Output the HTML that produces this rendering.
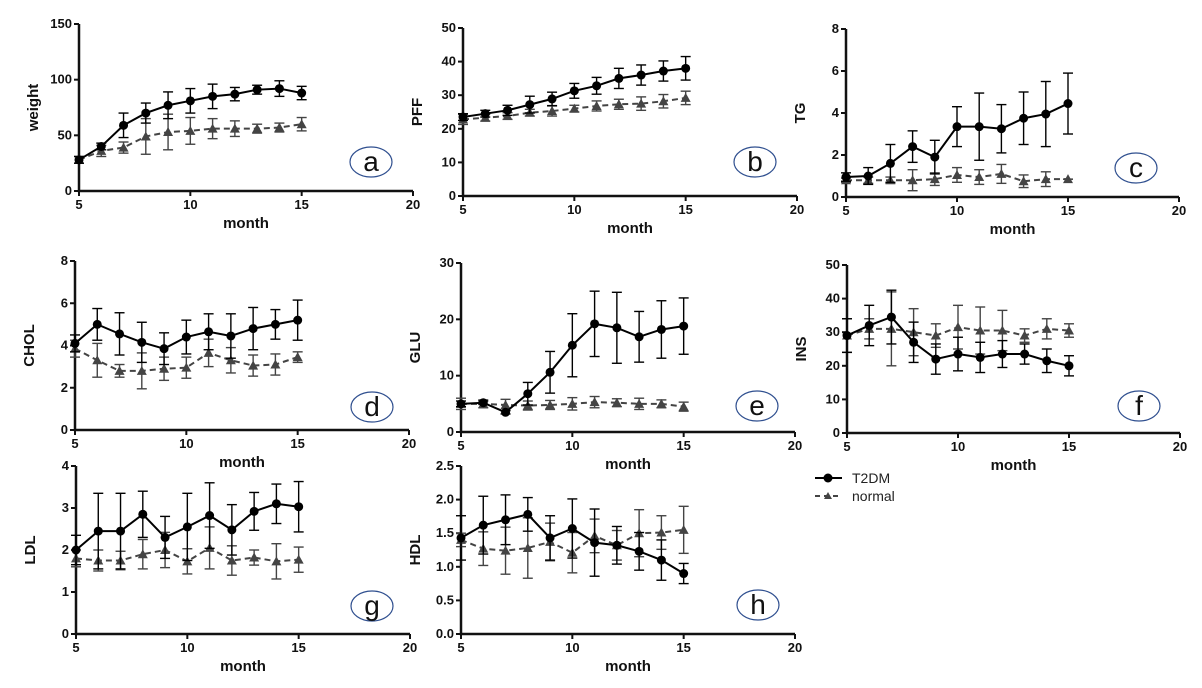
<!DOCTYPE html>
<html><head><meta charset="utf-8">
<style>
body{margin:0;background:#fff;}
svg{display:block;font-family:"Liberation Sans",sans-serif;}
.tk{font-weight:bold;font-size:13px;fill:#111;}
.lbl{font-weight:bold;font-size:15px;fill:#111;}
</style></head>
<body>
<svg id="chart" width="1202" height="688" viewBox="0 0 1202 688">
<g>
  <line x1="815" y1="478" x2="842" y2="478" stroke="#000" stroke-width="2"/>
  <circle cx="828" cy="478" r="4.5" fill="#000"/>
  <text x="852" y="483" font-size="14" fill="#222">T2DM</text>
  <line x1="815" y1="496" x2="842" y2="496" stroke="#444" stroke-width="2" stroke-dasharray="5,4"/>
  <path d="M828,492 L832,499 L824,499 Z" fill="#444"/>
  <text x="852" y="501" font-size="14" fill="#222">normal</text>
</g>
</svg>
<script>
const months=[5,6,7,8,9,10,11,12,13,14,15];
const xTicks=[5,10,15,20];
const aT=[28,40,59,70,77,81,85,87,91,92,88], aTe=[3,3,11,9,12,11,11,6,4,7,6];
const aN=[28,36,39,49,53,54,56,56,56,57,60], aNe=[3,5,5,16,16,12,9,7,4,4,6];
const bT=[23.5,24.5,25.5,27.2,28.9,31.3,32.8,35,36,37.2,38], bTe=[1,1,1.5,2.5,2,2.2,2.5,3,3,3,3.5];
const bN=[22.8,23.3,23.8,24.8,25.3,26,26.8,27.3,27.5,28.2,29.2], bNe=[1.5,1,1,1,1.5,1,1.5,1.5,2,2,2];
const cT=[0.95,1.0,1.6,2.4,1.9,3.35,3.35,3.25,3.75,3.95,4.45], cTe=[0.2,0.4,0.9,0.75,0.8,0.95,1.6,1.15,1.25,1.55,1.45];
const cN=[0.8,0.8,0.8,0.8,0.85,1.05,0.95,1.1,0.75,0.85,0.85], cNe=[0.1,0.15,0.15,0.5,0.3,0.35,0.35,0.45,0.3,0.35,0];
const dT=[4.1,5.0,4.55,4.15,3.85,4.4,4.65,4.45,4.8,5.0,5.2], dTe=[0.4,0.75,1.0,0.95,0.75,0.8,0.85,1.05,1.0,0.7,0.95];
const dN=[3.85,3.3,2.8,2.8,2.9,2.95,3.65,3.3,3.05,3.1,3.45], dNe=[0.4,0.8,0.3,0.85,0.55,0.5,0.65,0.6,0.5,0.5,0.25];
const eT=[5,5.2,3.5,6.8,10.6,15.4,19.2,18.5,16.9,18.2,18.8], eTe=[0.5,0.3,0.3,2,3.7,5.6,5.8,6.3,4.5,5.1,5];
const eN=[5,5,4.8,4.7,4.8,5,5.3,5.2,5,5,4.5], eNe=[1,0.7,1,0.8,0.8,1.1,1,0.7,1,0.7,0.8];
const fT=[29,32,34.5,27,22,23.5,22.5,23.5,23.5,21.5,20], fTe=[5,6,8,6,4.5,5,4.5,4,3,3.5,3];
const fN=[29,31,31,30,29,31.5,30.5,30.5,29,31,30.5], fNe=[5,3,11,7,3.5,6.5,7,6,2,3,2];
const gT=[2.0,2.45,2.45,2.85,2.3,2.55,2.82,2.48,2.92,3.1,3.03], gTe=[0.35,0.9,0.9,0.55,0.5,0.8,0.78,0.6,0.45,0.47,0.6];
const gN=[1.8,1.75,1.75,1.9,2.0,1.73,2.05,1.75,1.82,1.73,1.77], gNe=[0.2,0.25,0.22,0.35,0.42,0.3,0.5,0.35,0.18,0.42,0.3];
const hT=[1.43,1.62,1.7,1.78,1.43,1.57,1.36,1.32,1.23,1.1,0.9], hTe=[0.33,0.43,0.37,0.25,0.33,0.44,0.5,0.28,0.28,0.3,0.15];
const hN=[1.4,1.27,1.24,1.28,1.37,1.21,1.46,1.32,1.5,1.51,1.55], hNe=[0.1,0.25,0.35,0.45,0.28,0.3,0.25,0.22,0.35,0.25,0.35];
const yTicksA=["0","50","100","150"], yTicksB=["0","10","20","30","40","50"], yTicksC=["0","2","4","6","8"];
const yTicksE=["0","10","20","30"], yTicksG=["0","1","2","3","4"], yTicksH=["0.0","0.5","1.0","1.5","2.0","2.5"];

const panels=[
 {id:'a',name:'weight',x0:79,x1:413,y0:191,y1:24,max:150,ticks:yTicksA,T:aT,Te:aTe,N:aN,Ne:aNe,cx:371,cy:162},
 {id:'b',name:'PFF',x0:463,x1:797,y0:196,y1:28,max:50,ticks:yTicksB,T:bT,Te:bTe,N:bN,Ne:bNe,cx:755,cy:162},
 {id:'c',name:'TG',x0:846,x1:1179,y0:197,y1:29,max:8,ticks:yTicksC,T:cT,Te:cTe,N:cN,Ne:cNe,cx:1136,cy:168},
 {id:'d',name:'CHOL',x0:75,x1:409,y0:430,y1:261,max:8,ticks:yTicksC,T:dT,Te:dTe,N:dN,Ne:dNe,cx:372,cy:407},
 {id:'e',name:'GLU',x0:461,x1:795,y0:432,y1:263,max:30,ticks:yTicksE,T:eT,Te:eTe,N:eN,Ne:eNe,cx:757,cy:406},
 {id:'f',name:'INS',x0:847,x1:1180,y0:433,y1:265,max:50,ticks:yTicksB,T:fT,Te:fTe,N:fN,Ne:fNe,cx:1139,cy:406},
 {id:'g',name:'LDL',x0:76,x1:410,y0:634,y1:466,max:4,ticks:yTicksG,T:gT,Te:gTe,N:gN,Ne:gNe,cx:372,cy:606},
 {id:'h',name:'HDL',x0:461,x1:795,y0:634,y1:466,max:2.5,ticks:yTicksH,T:hT,Te:hTe,N:hN,Ne:hNe,cx:758,cy:605}
];
const svg=document.getElementById('chart');
const NS='http://www.w3.org/2000/svg';
function mk(tag,attrs,parent){const e=document.createElementNS(NS,tag);for(const k in attrs)e.setAttribute(k,attrs[k]);parent.appendChild(e);return e;}
panels.forEach(p=>{
  const g=mk('g',{},svg);
  
  
  const xs=v=>p.x0+(v-5)/15*(p.x1-p.x0);
  const ys=v=>p.y0-v/p.max*(p.y0-p.y1);
  const ax=mk('path',{d:`M${p.x0},${p.y1} L${p.x0},${p.y0} L${p.x1},${p.y0}`,fill:'none',stroke:'#111','stroke-width':2.5},g);
  
  
  xTicks.forEach(t=>{
    mk('line',{x1:xs(t),x2:xs(t),y1:p.y0,y2:p.y0+5,stroke:'#111','stroke-width':2},g);
    const tx=mk('text',{x:xs(t),y:p.y0+18,'text-anchor':'middle',class:'tk'},g);tx.textContent=t;
    
    
  });
  p.ticks.forEach((t,i)=>{
    const v=i*p.max/(p.ticks.length-1);
    mk('line',{x1:p.x0-5,x2:p.x0,y1:ys(v),y2:ys(v),stroke:'#111','stroke-width':2},g);
    const tx=mk('text',{x:p.x0-7,y:ys(v)+4,'text-anchor':'end',class:'tk'},g);tx.textContent=t;
    
    
  });
  const xl=mk('text',{x:(p.x0+p.x1)/2,y:p.y0+37,'text-anchor':'middle',class:'lbl'},g);xl.textContent='month';
  
  
  const ym=(p.y0+p.y1)/2;
  const yl=mk('text',{x:p.x0-41,y:ym,'text-anchor':'middle',class:'lbl',transform:`rotate(-90 ${p.x0-41} ${ym})`},g);yl.textContent=p.name;
  
  
  const el=mk('ellipse',{cx:p.cx,cy:p.cy,rx:21,ry:15,fill:'none',stroke:'#2f4f8f','stroke-width':1.2},g);
  
  
  const lt=mk('text',{x:p.cx,y:p.cy+9,'text-anchor':'middle','font-size':'28',fill:'#111'},g);lt.textContent=p.id;
  
  
  [['N',p.N,p.Ne,'#444','6,4'],['T',p.T,p.Te,'#000','']].forEach(([k,vals,errs,col,dash])=>{
    const sg=mk('g',{},g);
    
    
    vals.forEach((v,i)=>{
      const x=xs(months[i]);
      mk('line',{x1:x,x2:x,y1:ys(v-errs[i]),y2:ys(v+errs[i]),stroke:col,'stroke-width':1.4},sg);
      mk('line',{x1:x-5,x2:x+5,y1:ys(v-errs[i]),y2:ys(v-errs[i]),stroke:col,'stroke-width':1.4},sg);
      mk('line',{x1:x-5,x2:x+5,y1:ys(v+errs[i]),y2:ys(v+errs[i]),stroke:col,'stroke-width':1.4},sg);
    });
    const d=vals.map((v,i)=>(i?'L':'M')+xs(months[i])+','+ys(v)).join(' ');
    const ln=mk('path',{d:d,fill:'none',stroke:col,'stroke-width':2,'stroke-dasharray':dash},sg);
    
    
    vals.forEach((v,i)=>{
      const x=xs(months[i]),y=ys(v);
      let m;
      if(k==='T') m=mk('circle',{cx:x,cy:y,r:4.5,fill:col},sg);
      else m=mk('path',{d:`M${x},${y-5} L${x+5},${y+4} L${x-5},${y+4} Z`,fill:col},sg);
      
      
    });
  });
});
</script>
</body></html>
